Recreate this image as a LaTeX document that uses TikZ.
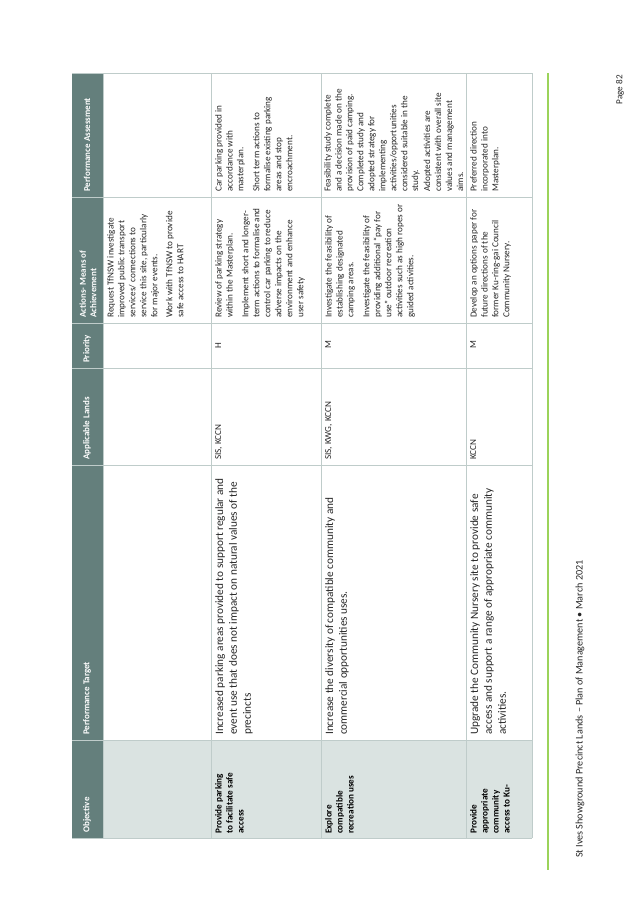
\documentclass[tikz,border=0pt]{standalone}
\usepackage{fontspec}
\setmainfont{Carlito}
\usepackage{tikz}
\definecolor{hdrcol}{HTML}{647F7C}
\definecolor{objcol}{HTML}{DAE3E1}
\definecolor{gridcol}{HTML}{BFCCCA}
\definecolor{barcol}{HTML}{9BD35A}
\tikzset{
  hdr/.style={anchor=west, text=white, font=\fontsize{9}{10.5}\selectfont\bfseries, align=left, inner sep=0pt},
  cell/.style={anchor=north west, font=\fontsize{9.2}{11}\selectfont, align=left, inner sep=0pt, text=black!85},
  tgtcell/.style={cell, font=\fontsize{11.3}{14}\selectfont},
  obj/.style={cell, font=\fontsize{9.2}{11}\selectfont\bfseries, text=black}
}
\begin{document}
\begin{tikzpicture}[x=1bp, y=1bp]
\begin{scope}[rotate=90, transform shape]
\useasboundingbox (0,0) rectangle (900,-638);

% fills of header and objective column
\fill[hdrcol] (62,-72) rectangle (827,-103);
\fill[objcol] (62,-103) rectangle (160,-532);

% grid
\foreach \v in {-103,-211,-321,-466,-532}
  \draw[gridcol, line width=0.8pt] (62,\v) -- (827,\v);
\foreach \u in {62,160,435,532,577,703,827}
  \draw[gridcol, line width=0.8pt] (\u,-72) -- (\u,-532);

% header labels
\node[hdr] (hobj) at (67,-87) {Objective};
\node[hdr] (htgt) at (165,-87) {Performance Target};
\node[hdr] (hland) at (440,-87) {Applicable Lands};
\node[hdr] (hprio) at (537,-87) {Priority};
\node[hdr] (hact) at (582,-88) {Actions- Means of\\Achievement};
\node[hdr] (hass) at (708,-87) {Performance Assessment};

% first row
\node[cell] (act1) at (582,-107) {Request TfNSW investigate\\improved public transport\\services/ connections to\\service this site, particularly\\for major events.\\[4bp]Work with TfNSW to provide\\safe access to HART};

% parking row
\node[obj] (obj2) at (66,-215) {Provide parking\\to facilitate safe\\access};
\node[tgtcell] (tgt2) at (165,-215) {Increased parking areas provided to support regular and\\event use that does not impact on natural values of the\\precincts};
\node[cell] (land2) at (440,-215) {SIS, KCCN};
\node[cell] (prio2) at (551,-215) {H};
\node[cell] (act2) at (582,-215) {Review of parking strategy\\within the Masterplan.\\[5bp]Implement short and longer-\\term actions to formalise and\\control car parking to reduce\\adverse impacts on the\\environment and enhance\\user safety};
\node[cell] (ass2) at (708,-215) {Car parking provided in\\accordance with\\masterplan.\\[5bp]Short term actions to\\formalise existing parking\\areas and stop\\encroachment.};

% recreation row
\node[obj] (obj3) at (66,-325) {Explore\\compatible\\recreation uses};
\node[tgtcell] (tgt3) at (165,-325) {Increase the diversity of compatible community and\\commercial opportunities uses.};
\node[cell] (land3) at (440,-325) {SIS, KWG, KCCN};
\node[cell] (prio3) at (551,-325) {M};
\node[cell] (act3) at (582,-325) {Investigate the feasibility of\\establishing designated\\camping areas.\\[5bp]Investigate the feasibility of\\providing additional ``pay for\\use'' outdoor recreation\\activities such as high ropes or\\guided activities.};
\node[cell] (ass3) at (708,-324) {Feasibility study complete\\and a decision made on the\\provision of paid camping.\\Completed study and\\adopted strategy for\\implementing\\activities/opportunities\\considered suitable in the\\study.\\[1bp]Adopted activities are\\consistent with overall site\\values and management\\aims.};

% nursery row
\node[obj] (obj4) at (66,-470) {Provide\\appropriate\\community\\access to Ku-};
\node[tgtcell] (tgt4) at (165,-470) {Upgrade the Community Nursery site to provide safe\\access and support a range of appropriate community\\activities.};
\node[cell] (land4) at (440,-470) {KCCN};
\node[cell] (prio4) at (551,-470) {M};
\node[cell] (act4) at (582,-470) {Develop an options paper for\\future directions of the\\former Ku-ring-gai Council\\Community Nursery.};
\node[cell] (ass4) at (708,-470) {Preferred direction\\incorporated into\\Masterplan.};

% footer
\draw[barcol, line width=2.5pt] (30,-548) -- (827,-548);
\node[cell, anchor=west, font=\fontsize{10.2}{12}\selectfont] (foot) at (42,-580) {St Ives Showground Precinct Lands -- Plan of Management \textbullet\ March 2021};
\node[cell, anchor=east] (page) at (825,-620) {Page 82};
\end{scope}
\end{tikzpicture}
\end{document}
